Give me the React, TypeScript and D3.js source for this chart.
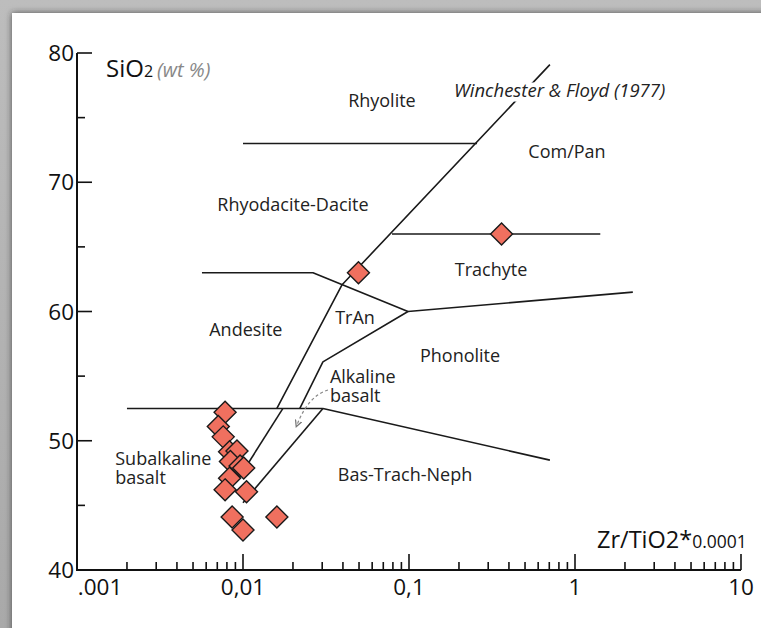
import React from 'react';
import * as d3 from 'd3';

const W = 761;
const H = 628;

// Axis ticks
const xMajorTicks = [0.001, 0.01, 0.1, 1, 10];
const xTickLabels = ['.001', '0,01', '0,1', '1', '10'];
const yMajorTicks = [40, 50, 60, 70, 80];
const yMinorTicks = [45, 55, 65, 75];

// Sample analyses: Zr/TiO2*0.0001 and SiO2 (wt %)
const sampleZrTi = [0.0078, 0.0071, 0.0076, 0.0083, 0.0092, 0.0084, 0.0096, 0.0101, 0.0083, 0.0078, 0.0105, 0.0086, 0.01, 0.016, 0.0496, 0.361];
const sampleSiO2 = [52.2, 51.1, 50.3, 49.15, 49.2, 48.4, 48.05, 47.9, 47.1, 46.2, 46.06, 44.1, 43.1, 44.1, 63.0, 66.0];

// Field boundaries of the Winchester & Floyd (1977) diagram, as [Zr/TiO2, SiO2]
const rhyoliteBase = [[0.01, 73], [0.257, 73]];
const subalkalineDivide = [[0.706, 79.1], [0.0394, 62.05], [0.016, 52.5]];
const subalkalineBasaltDivide = [[0.0174, 52.5], [0.0108, 48.3]];
const trachyteTop = [[0.079, 66], [1.42, 66]];
const andesiteTop = [[0.00566, 63], [0.0264, 63], [0.0986, 60]];
const phonoliteTop = [[0.0986, 60], [2.23, 61.5]];
const alkalineBasaltTop = [[0.0986, 60], [0.0303, 56.1], [0.022, 52.5]];
const basaltTop = [[0.002, 52.5], [0.0303, 52.5]];
const basTrachNephTop = [[0.0303, 52.5], [0.706, 48.5]];
const alkalineBasaltBase = [[0.0303, 52.5], [0.01, 45.2]];

const boundaries = [
  rhyoliteBase, subalkalineDivide, subalkalineBasaltDivide, trachyteTop, andesiteTop,
  phonoliteTop, alkalineBasaltTop, basaltTop, basTrachNephTop, alkalineBasaltBase,
];

// Field names (multi-line names split on "|"), positions in [Zr/TiO2, SiO2]
const fieldNames = ['Rhyolite', 'Rhyodacite-Dacite', 'Com/Pan', 'Trachyte', 'Andesite', 'TrAn', 'Phonolite', 'Alkaline|basalt', 'Subalkaline|basalt', 'Bas-Trach-Neph'];
const fieldX = [0.0687, 0.02, 0.895, 0.312, 0.0104, 0.0473, 0.203, 0.0334, 0.0017, 0.0946];
const fieldY = [76.29, 68.24, 72.34, 63.2, 58.57, 59.5, 56.56, 54.93, 48.6, 47.4];
const fieldAnchor = ['middle', 'middle', 'middle', 'middle', 'middle', 'middle', 'middle', 'start', 'start', 'middle'];

// Dashed pointer from the alkaline basalt label into its narrow field
const pointer = [[0.0325, 53.93], [0.0247, 53.46], [0.0211, 51.2]];

const FONT = "'Open Sans', 'Noto Sans', sans-serif";

export default function App() {
  const x = d3.scaleLog().domain([0.001, 10]).range([77, 741]);
  const y = d3.scaleLinear().domain([40, 80]).range([570, 53]);
  const line = d3.line<number[]>().x((d) => x(d[0])).y((d) => y(d[1]));

  const xMinor: number[] = [];
  [0.001, 0.01, 0.1, 1].forEach((dec) => {
    for (let k = 2; k <= 9; k++) xMinor.push(dec * k);
  });

  const diamond = (cx: number, cy: number, r: number) => {
    const p = d3.path();
    p.moveTo(cx, cy - r);
    p.lineTo(cx + r, cy);
    p.lineTo(cx, cy + r);
    p.lineTo(cx - r, cy);
    p.closePath();
    return p.toString();
  };

  const [p0, p1, p2] = pointer;
  const pointerPath = `M${x(p0[0])},${y(p0[1])} Q${x(p1[0])},${y(p1[1])} ${x(p2[0])},${y(p2[1])}`;

  return (
    <svg width={W} height={H} style={{ position: 'absolute', left: 0, top: 0 }} fontFamily={FONT}>
      <defs>
        <filter id="panelShadow" x="-5%" y="-5%" width="110%" height="110%">
          <feDropShadow dx="0" dy="0" stdDeviation="3" floodColor="#333" floodOpacity="0.8" />
        </filter>
        <linearGradient id="bgGrad" x1="0" y1="0" x2="0" y2="1">
          <stop offset="0" stopColor="#bdbdbd" />
          <stop offset="1" stopColor="#a9a9a9" />
        </linearGradient>
        <marker id="arrowHead" viewBox="0 0 10 10" refX="6" refY="5" markerWidth="7" markerHeight="7" orient="auto">
          <path d="M0,1 L8,5 L0,9" fill="none" stroke="#777" strokeWidth="1.5" />
        </marker>
      </defs>

      <rect x={0} y={0} width={W} height={H} fill="url(#bgGrad)" />
      <rect x={12} y={13} width={W} height={H} fill="#fff" filter="url(#panelShadow)" />

      {/* field boundaries */}
      <g fill="none" stroke="#1a1a1a" strokeWidth={1.6} strokeLinejoin="round">
        {boundaries.map((b, i) => (
          <path key={i} d={line(b) || ''} />
        ))}
      </g>

      {/* source note, masking the boundary behind it */}
      <text x={454} y={97} fontSize={18.5} fontStyle="italic" fill="#222"
        stroke="#fff" strokeWidth={9} paintOrder="stroke" strokeLinejoin="round">
        Winchester &amp; Floyd (1977)
      </text>

      {/* field names */}
      <g fontSize={18} fill="#222">
        {fieldNames.map((t, i) => {
          const parts = t.split('|');
          return (
            <text key={i} x={x(fieldX[i])} y={y(fieldY[i])} dy="0.35em" textAnchor={fieldAnchor[i]}>
              {parts.map((s, j) => (
                <tspan key={j} x={x(fieldX[i])} dy={j === 0 ? '0.35em' : 19}>{s}</tspan>
              ))}
            </text>
          );
        })}
      </g>

      <path d={pointerPath} fill="none" stroke="#888" strokeWidth={1.2} strokeDasharray="3,2.5" markerEnd="url(#arrowHead)" />

      {/* axes */}
      <g stroke="#111" fill="none">
        <line x1={x(0.001)} x2={x(0.001)} y1={y(40) + 1} y2={y(80)} strokeWidth={2} />
        <line x1={x(0.001)} x2={x(10)} y1={y(40)} y2={y(40)} strokeWidth={2} />
        {yMajorTicks.map((v) => (
          <line key={'ym' + v} x1={x(0.001)} x2={x(0.001) + 15} y1={y(v)} y2={y(v)} strokeWidth={1.6} />
        ))}
        {yMinorTicks.map((v) => (
          <line key={'yn' + v} x1={x(0.001)} x2={x(0.001) + 8} y1={y(v)} y2={y(v)} strokeWidth={1.6} />
        ))}
        {xMajorTicks.slice(1).map((v) => (
          <line key={'xm' + v} x1={x(v)} x2={x(v)} y1={y(40)} y2={y(40) - 16} strokeWidth={1.6} />
        ))}
        {xMinor.map((v, i) => (
          <line key={'xn' + i} x1={x(v)} x2={x(v)} y1={y(40)} y2={y(40) - 8} strokeWidth={1.6} />
        ))}
      </g>

      <g fontSize={22.5} fill="#111">
        {yMajorTicks.map((v) => (
          <text key={'yl' + v} x={x(0.001) - 3} y={y(v)} dy="0.36em" textAnchor="end">{v}</text>
        ))}
        {xMajorTicks.map((v, i) => (
          <text key={'xl' + v} x={i === 0 ? x(v) + 23 : x(v)} y={y(40) + 25} textAnchor="middle">{xTickLabels[i]}</text>
        ))}
      </g>

      {/* axis titles */}
      <text x={106} y={77} fill="#111" fontSize={24}>
        SiO<tspan fontSize={16}>2</tspan>
        <tspan fill="#888" fontStyle="italic" fontSize={20} dx={4}>(wt %)</tspan>
      </text>
      <text x={597} y={548} fill="#111" fontSize={23.5}>
        Zr/TiO2*<tspan fontSize={17.5}>0.0001</tspan>
      </text>

      {/* samples */}
      <g fill="#f0705f" stroke="#1a1a1a" strokeWidth={1.4} strokeLinejoin="miter">
        {sampleZrTi.map((v, i) => (
          <path key={i} d={diamond(x(v), y(sampleSiO2[i]), 11)} />
        ))}
      </g>
    </svg>
  );
}
